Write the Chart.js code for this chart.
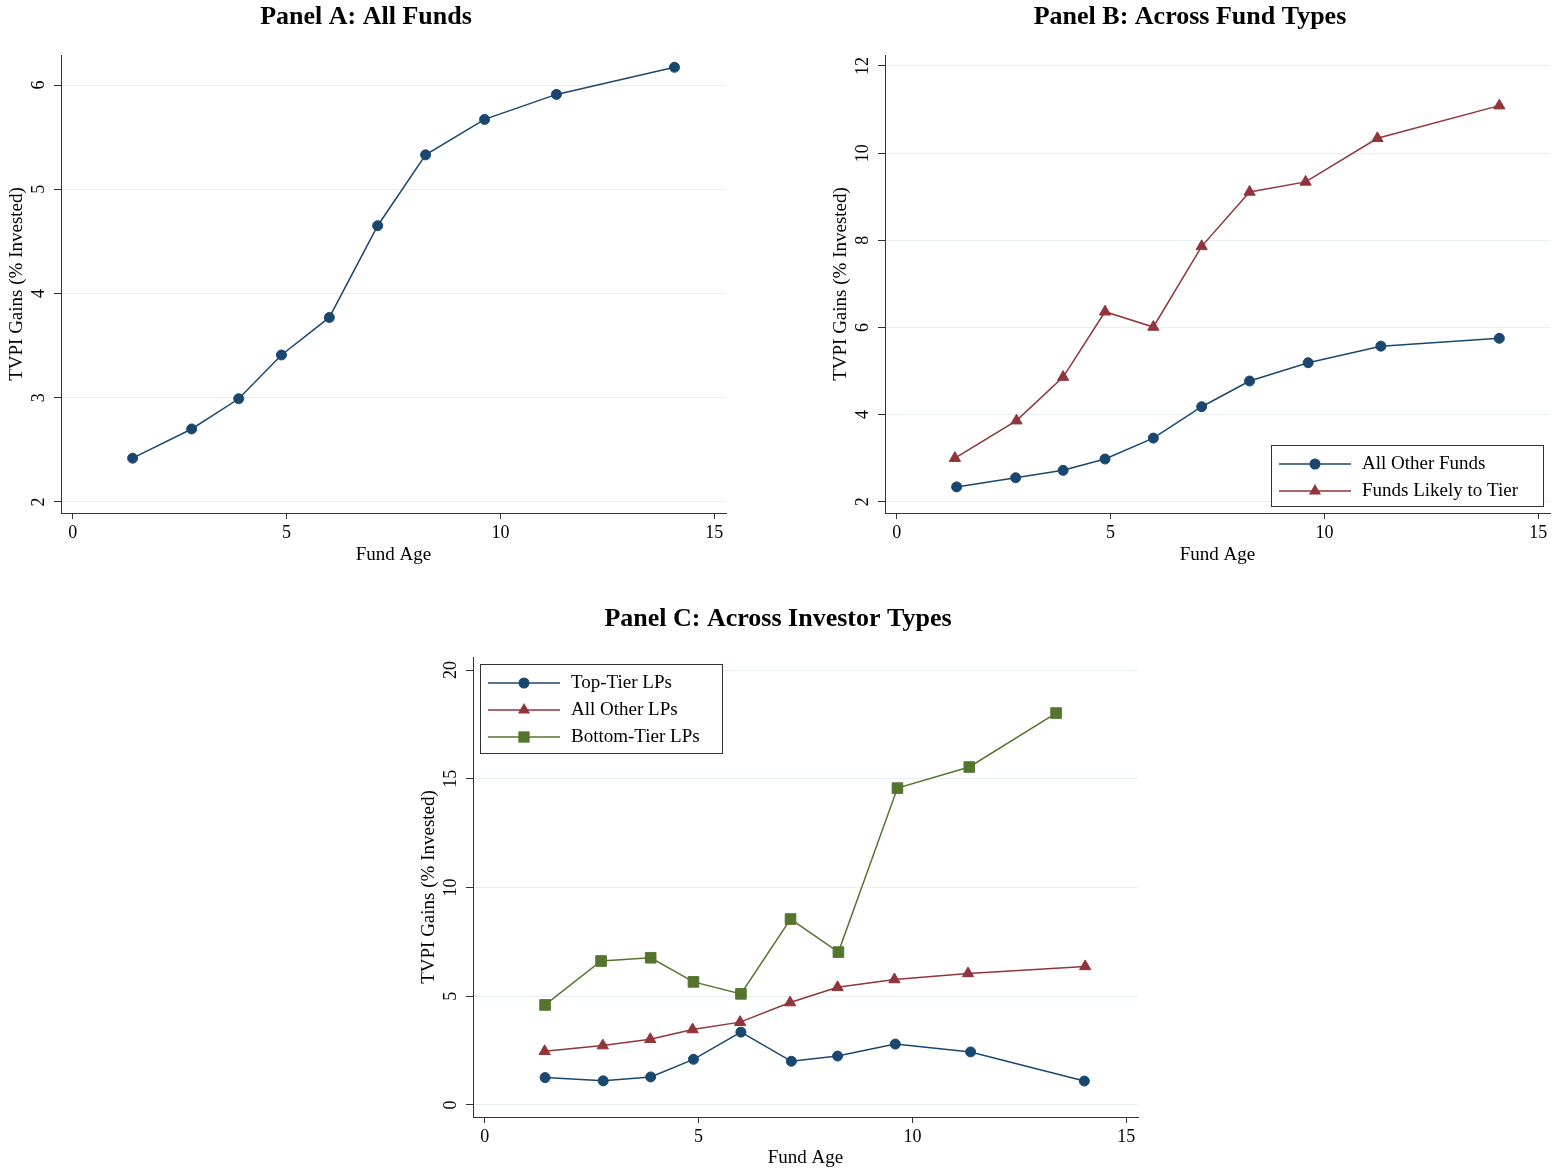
<!DOCTYPE html>
<html>
<head>
<meta charset="utf-8">
<script src="https://cdn.jsdelivr.net/npm/chart.js@4.4.1/dist/chart.umd.min.js"></script>
<style>
  body { margin: 0; background: #fff; width: 1564px; height: 1171px; overflow: hidden; position: relative; }
  canvas { position: absolute; }
</style>
</head>
<body>
<canvas id="panelA" width="732" height="580" style="left:0;top:0"></canvas>
<canvas id="panelB" width="732" height="580" style="left:824px;top:0"></canvas>
<canvas id="panelC" width="732" height="570" style="left:412px;top:601px"></canvas>
<script>
// ---- data ----
const xTicks = [0, 5, 10, 15];

// Panel A
const ageAll = [1.40, 2.78, 3.88, 4.88, 6.00, 7.13, 8.25, 9.63, 11.31, 14.07];
const allFunds = [2.42, 2.70, 2.99, 3.41, 3.77, 4.65, 5.33, 5.67, 5.91, 6.17];
const yTicksA = [2, 3, 4, 5, 6];

// Panel B
const ageOther = [1.40, 2.78, 3.89, 4.87, 6.00, 7.13, 8.25, 9.62, 11.32, 14.09];
const otherFunds = [2.34, 2.55, 2.72, 2.98, 3.46, 4.18, 4.77, 5.19, 5.57, 5.75];
const ageLikely = [1.36, 2.80, 3.89, 4.87, 6.00, 7.13, 8.25, 9.56, 11.24, 14.09];
const likelyToTier = [3.00, 3.86, 4.86, 6.36, 6.01, 7.86, 9.11, 9.34, 10.34, 11.09];
const yTicksB = [2, 4, 6, 8, 10, 12];

// Panel C
const ageTop = [1.41, 2.77, 3.88, 4.88, 5.99, 7.17, 8.25, 9.60, 11.36, 14.02];
const topTier = [1.26, 1.11, 1.29, 2.10, 3.35, 2.01, 2.25, 2.80, 2.44, 1.10];
const ageAllOther = [1.40, 2.76, 3.87, 4.86, 5.97, 7.14, 8.25, 9.58, 11.30, 14.04];
const allOtherLPs = [2.47, 2.73, 3.02, 3.47, 3.81, 4.71, 5.41, 5.77, 6.05, 6.37];
const ageBottom = [1.41, 2.72, 3.88, 4.88, 5.99, 7.15, 8.27, 9.65, 11.33, 13.36];
const bottomTier = [4.60, 6.62, 6.77, 5.66, 5.11, 8.55, 7.03, 14.57, 15.54, 18.02];
const yTicksC = [0, 5, 10, 15, 20];

const NAVY = '#1a476f', MAROON = '#90353b', GREEN = '#55752f';
const SERIF = "'Liberation Serif', 'Times New Roman', Times, serif";

const pts = (xs, ys) => xs.map((x, i) => ({ x: x, y: ys[i] }));

function series(label, xs, ys, color, style, radius) {
    return {
        label: label,
        data: pts(xs, ys),
        borderColor: color,
        backgroundColor: color,
        borderWidth: 1.5,
        pointStyle: style,
        pointRadius: radius,
        pointBorderWidth: 1,
        pointBorderColor: color,
        pointBackgroundColor: color,
        tension: 0
    };
}

function marker(ctx, style, r, x, y) {
    ctx.beginPath();
    if (style === 'circle') {
        ctx.arc(x, y, r, 0, Math.PI * 2);
    } else if (style === 'triangle') {
        ctx.moveTo(x, y - r);
        ctx.lineTo(x + r * 0.866, y + r * 0.5);
        ctx.lineTo(x - r * 0.866, y + r * 0.5);
        ctx.closePath();
    } else {
        const s = r * Math.SQRT1_2;
        ctx.rect(x - s, y - s, 2 * s, 2 * s);
    }
    ctx.fill();
}

// panel title + rotated y tick labels (Stata style)
const panelText = {
    id: 'panelText',
    afterDraw(chart, args, opts) {
        const ctx = chart.ctx;
        ctx.save();
        ctx.fillStyle = '#000';
        ctx.font = 'bold 26px ' + SERIF;
        ctx.textAlign = 'center';
        ctx.textBaseline = 'middle';
        ctx.fillText(opts.title, chart.width / 2, opts.titleY);

        const y = chart.scales.y;
        ctx.font = '18px ' + SERIF;
        ctx.textBaseline = 'alphabetic';
        y.ticks.forEach(t => {
            ctx.save();
            ctx.translate(y.right - 17, y.getPixelForValue(t.value));
            ctx.rotate(-Math.PI / 2);
            ctx.fillText(String(t.value), 0, 0);
            ctx.restore();
        });
        ctx.restore();
    }
};

// boxed legend inside the plot
const boxLegend = {
    id: 'boxLegend',
    afterDraw(chart, args, opts) {
        if (!opts || !opts.show) return;
        const ctx = chart.ctx;
        const sets = chart.data.datasets;
        ctx.save();
        ctx.fillStyle = '#fff';
        ctx.fillRect(opts.left, opts.top, opts.width, opts.height);
        ctx.strokeStyle = '#333';
        ctx.lineWidth = 1;
        ctx.strokeRect(opts.left + 0.5, opts.top + 0.5, opts.width, opts.height);
        sets.forEach((ds, i) => {
            const ry = opts.top + 19 + i * 27;
            ctx.strokeStyle = ds.borderColor;
            ctx.lineWidth = 1.5;
            ctx.beginPath();
            ctx.moveTo(opts.left + 8, ry);
            ctx.lineTo(opts.left + 80, ry);
            ctx.stroke();
            ctx.fillStyle = ds.borderColor;
            marker(ctx, ds.pointStyle, ds.pointRadius + 0.5, opts.left + 44, ry);
            ctx.fillStyle = '#000';
            ctx.font = '19px ' + SERIF;
            ctx.textAlign = 'left';
            ctx.textBaseline = 'middle';
            ctx.fillText(ds.label, opts.left + 91, ry);
        });
        ctx.restore();
    }
};

function makePanel(id, p) {
    return new Chart(document.getElementById(id), {
        type: 'line',
        data: { datasets: p.datasets },
        options: {
            responsive: false,
            animation: false,
            layout: { autoPadding: false, padding: { top: p.top, right: 6, left: 0, bottom: 0 } },
            plugins: {
                legend: { display: false },
                tooltip: { enabled: false },
                title: { display: false },
                panelText: { title: p.title, titleY: p.titleY },
                boxLegend: p.legend || { show: false }
            },
            scales: {
                x: {
                    type: 'linear',
                    min: -0.275,
                    max: 15.275,
                    afterFit: s => { s.height = p.xHeight; },
                    afterBuildTicks: s => { s.ticks = xTicks.map(v => ({ value: v })); },
                    grid: { drawOnChartArea: false, drawTicks: true, tickLength: 6, tickColor: '#333' },
                    border: { display: true, color: '#333', width: 1 },
                    ticks: { color: '#000', font: { family: SERIF, size: 18 }, padding: 3, maxRotation: 0, autoSkip: false },
                    title: { display: true, text: 'Fund Age', color: '#000', font: { family: SERIF, size: 19 }, padding: { top: 0, bottom: p.xTitlePad } }
                },
                y: {
                    type: 'linear',
                    min: p.yMin,
                    max: p.yMax,
                    afterFit: s => { s.width = 61; },
                    afterBuildTicks: s => { s.ticks = p.yTicks.map(v => ({ value: v })); },
                    grid: { color: '#e8eff2', lineWidth: 1, drawTicks: true, tickLength: 7, tickColor: '#333' },
                    border: { display: true, color: '#333', width: 1 },
                    ticks: { display: false },
                    title: { display: true, text: 'TVPI Gains (% Invested)', color: '#000', font: { family: SERIF, size: 19 }, padding: { top: 6, bottom: 0 } }
                }
            }
        },
        plugins: [panelText, boxLegend]
    });
}

makePanel('panelA', {
    title: 'Panel A: All Funds', titleY: 17, top: 55, xHeight: 67, xTitlePad: 14,
    yMin: 1.894, yMax: 6.288, yTicks: yTicksA,
    datasets: [series('All Funds', ageAll, allFunds, NAVY, 'circle', 5)]
});

makePanel('panelB', {
    title: 'Panel B: Across Fund Types', titleY: 17, top: 55, xHeight: 67, xTitlePad: 14,
    yMin: 1.741, yMax: 12.252, yTicks: yTicksB,
    datasets: [
        series('All Other Funds', ageOther, otherFunds, NAVY, 'circle', 5),
        series('Funds Likely to Tier', ageLikely, likelyToTier, MAROON, 'triangle', 6.5)
    ],
    legend: { show: true, left: 447, top: 445, width: 272, height: 61 }
});

makePanel('panelC', {
    title: 'Panel C: Across Investor Types', titleY: 18, top: 56, xHeight: 54, xTitlePad: 2,
    yMin: -0.552, yMax: 20.598, yTicks: yTicksC,
    datasets: [
        series('Top-Tier LPs', ageTop, topTier, NAVY, 'circle', 5),
        series('All Other LPs', ageAllOther, allOtherLPs, MAROON, 'triangle', 6.5),
        series('Bottom-Tier LPs', ageBottom, bottomTier, GREEN, 'rect', 7.5)
    ],
    legend: { show: true, left: 68, top: 63, width: 242, height: 89 }
});
</script>
</body>
</html>
